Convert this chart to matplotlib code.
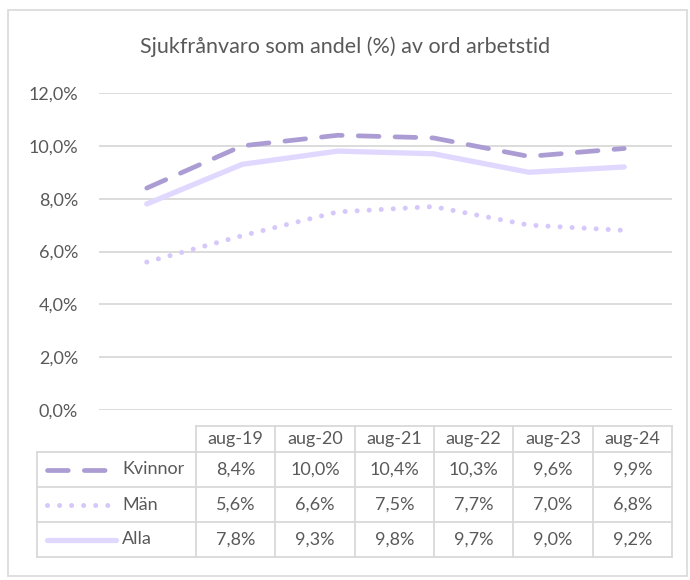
import matplotlib.pyplot as plt
from matplotlib.lines import Line2D
from matplotlib.patches import Rectangle

# data
periods = ['aug-19', 'aug-20', 'aug-21', 'aug-22', 'aug-23', 'aug-24']
kvinnor = [8.4, 10.0, 10.4, 10.3, 9.6, 9.9]
man = [5.6, 6.6, 7.5, 7.7, 7.0, 6.8]
alla = [7.8, 9.3, 9.8, 9.7, 9.0, 9.2]
series_names = ['Kvinnor', 'Män', 'Alla']
y_ticks = [0, 2, 4, 6, 8, 10, 12]

W, H = 690, 580
plt.rcParams['font.family'] = ['Lato', 'DejaVu Sans']
txt_col = '#595959'
grid_col = '#D9D9D9'
c_kv = '#AB9DD3'
c_man = '#D6C8FA'
c_alla = '#E0D8FF'


def fx(px):
    return px / W


def fy(py):
    return 1 - py / H


fig = plt.figure(figsize=(W / 100, H / 100), dpi=100)

# outer chart border
fig.add_artist(Rectangle((fx(8), fy(576)), fx(679), 566 / H, fill=False,
                         edgecolor=grid_col, linewidth=1.2, transform=fig.transFigure))

fig.text(0.5, fy(47), 'Sjukfrånvaro som andel (%) av ord arbetstid',
         ha='center', va='center', fontsize=15.5, color=txt_col)

ax = fig.add_axes([fx(99), fy(410), fx(672) - fx(99), (410 - 93) / H])
x = list(range(len(periods)))
lw = 3.4
ax.plot(x, kvinnor, color=c_kv, linewidth=lw, dashes=(4.4, 3.4),
        dash_capstyle='round', solid_capstyle='round')
ax.plot(x, man, color=c_man, linewidth=3.6, dashes=(0.01, 2.4),
        dash_capstyle='round')
ax.plot(x, alla, color=c_alla, linewidth=3.8, solid_capstyle='round')

ax.set_xlim(-0.5, len(periods) - 0.5)
ax.set_ylim(0, 12)
ax.set_yticks(y_ticks)
ax.set_yticklabels([f'{t:.1f}%'.replace('.', ',') for t in y_ticks])
ax.set_xticks([])
ax.tick_params(axis='y', length=0, pad=15, labelsize=13, labelcolor=txt_col)
ax.grid(axis='y', color=grid_col, linewidth=1.3)
for s in ax.spines.values():
    s.set_visible(False)

# data table
col_left = 196
col_right = 672
col_w = (col_right - col_left) / len(periods)
row_tops = [426, 452, 487, 522, 557]
tab_left = 37


def hline(x0, x1, y):
    fig.add_artist(Line2D([fx(x0), fx(x1)], [fy(y), fy(y)], color=grid_col,
                          linewidth=1.3, transform=fig.transFigure))


def vline(x0, y0, y1):
    fig.add_artist(Line2D([fx(x0), fx(x0)], [fy(y0), fy(y1)], color=grid_col,
                          linewidth=1.3, transform=fig.transFigure))


hline(col_left, col_right, row_tops[0])
for yt in row_tops[1:]:
    hline(tab_left, col_right, yt)
vline(tab_left, row_tops[1], row_tops[-1])
for i in range(len(periods) + 1):
    vline(col_left + i * col_w, row_tops[0], row_tops[-1])

fs = 13
for i, p in enumerate(periods):
    fig.text(fx(col_left + (i + 0.5) * col_w), fy((row_tops[0] + row_tops[1]) / 2),
             p, ha='center', va='center', fontsize=fs, color=txt_col)

all_vals = [kvinnor, man, alla]
styles = [dict(color=c_kv, linewidth=lw, dashes=(4.4, 3.4), dash_capstyle='round'),
          dict(color=c_man, linewidth=3.6, dashes=(0.01, 2.4), dash_capstyle='round'),
          dict(color=c_alla, linewidth=3.8, solid_capstyle='round')]
key_ends = [107, 110, 116]
for r, (name, vals) in enumerate(zip(series_names, all_vals)):
    yc = (row_tops[r + 1] + row_tops[r + 2]) / 2
    fig.add_artist(Line2D([fx(47), fx(key_ends[r])], [fy(yc), fy(yc)],
                          transform=fig.transFigure, **styles[r]))
    fig.text(fx(122), fy(yc), name, ha='left', va='center', fontsize=fs, color=txt_col)
    for i, v in enumerate(vals):
        fig.text(fx(col_left + (i + 0.5) * col_w), fy(yc),
                 f'{v:.1f}%'.replace('.', ','), ha='center', va='center',
                 fontsize=fs, color=txt_col)

fig.savefig('out.png', dpi=100)
